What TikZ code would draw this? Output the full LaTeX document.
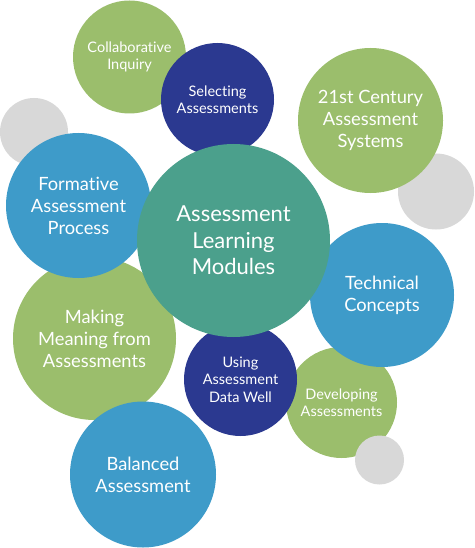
\documentclass[tikz,border=0pt]{standalone}
\usepackage{fontspec}
\setmainfont{Lato}[Ligatures={NoCommon}]
\definecolor{cgreen}{HTML}{9BBE6C}
\definecolor{cnavy}{HTML}{2B3990}
\definecolor{cblue}{HTML}{3E9BC9}
\definecolor{cteal}{HTML}{4BA08C}
\definecolor{cgray}{HTML}{D8D8D8}
\begin{document}
\begin{tikzpicture}[x=1pt,y=-1pt,
  bub/.style={circle, inner sep=0pt, outer sep=0pt, text=white, align=center},
  big/.style={font=\fontsize{22}{26.5}\selectfont},
  mid/.style={font=\fontsize{18.3}{22}\selectfont},
  small/.style={font=\fontsize{14.5}{17.5}\selectfont}]
\useasboundingbox[fill=white] (0,0) rectangle (474,548);
\node[bub, fill=cgray, minimum size=68pt] (g1) at (34,132) {};
\node[bub, fill=cgray, minimum size=76pt] (g2) at (436,191.5) {};
\node[bub, fill=cgreen, minimum size=113pt, small] (collab) at (129.5,57) {Collaborative\\Inquiry};
\node[bub, fill=cnavy, minimum size=113pt, small] (select) at (217.5,99.5) {Selecting\\Assessments};
\node[bub, fill=cgreen, minimum size=145pt, mid] (c21) at (370.5,120.5) {21st Century\\Assessment\\Systems};
\node[bub, fill=cgreen, minimum size=163pt, mid] (meaning) at (94.5,338.5) {Making\\Meaning from\\Assessments};
\node[bub, fill=cblue, minimum size=145pt, mid] (form) at (78.5,205.5) {Formative\\Assessment\\Process};
\node[bub, fill=cblue, minimum size=146pt, mid] (bal) at (143,474.5) {Balanced\\Assessment};
\node[bub, fill=cgreen, minimum size=111pt, small] (dev) at (341.5,402.5) {Developing\\Assessments};
\node[bub, fill=cgray, minimum size=49pt] (g3) at (379.5,460) {};
\node[bub, fill=cnavy, minimum size=113pt, small] (using) at (240.5,379.5) {Using\\Assessment\\Data Well};
\node[bub, fill=cblue, minimum size=144pt, mid] (tech) at (382,295) {Technical\\Concepts};
\node[bub, fill=cteal, minimum size=193pt, big] (alm) at (233.5,240.5) {Assessment\\Learning\\Modules};
\end{tikzpicture}
\end{document}
